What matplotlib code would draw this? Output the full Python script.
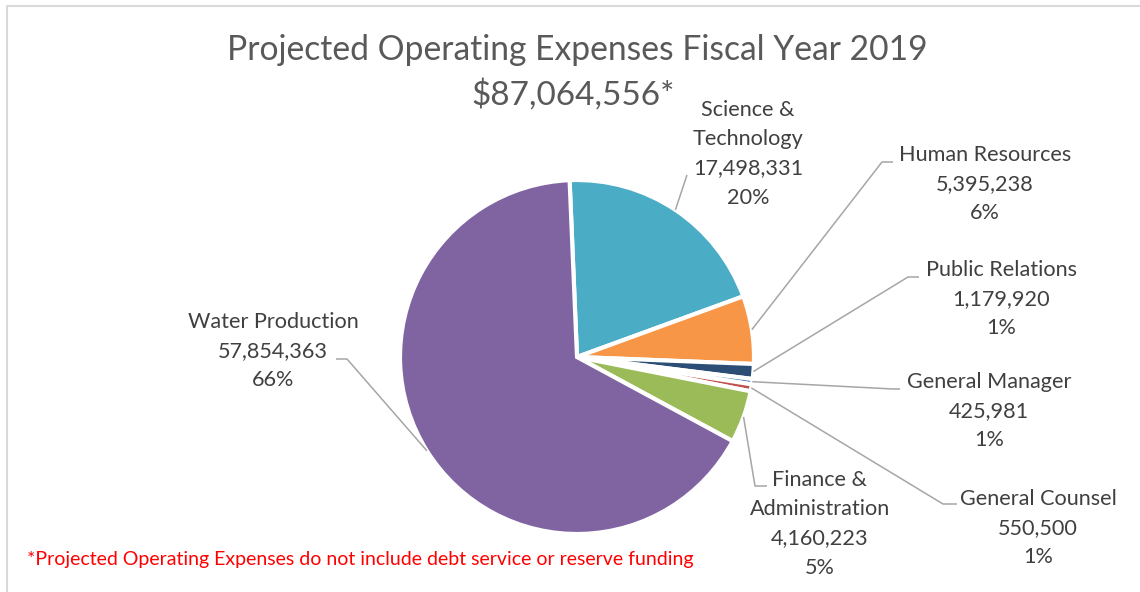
import numpy as np
import matplotlib
matplotlib.use("Agg")
import matplotlib.pyplot as plt

# data
categories = ["Science &\nTechnology", "Human Resources", "Public Relations",
              "General Manager", "General Counsel", "Finance &\nAdministration",
              "Water Production"]
amounts = [17498331, 5395238, 1179920, 425981, 550500, 4160223, 57854363]
pct_labels = ["20%", "6%", "1%", "1%", "1%", "5%", "66%"]
colors = ["#4BACC6", "#F79646", "#2C4D75", "#4F81BD", "#C0504D", "#9BBB59", "#8064A2"]

title = "Projected Operating Expenses Fiscal Year 2019"
total_label = "$87,064,556*"
footnote = "*Projected Operating Expenses do not include debt service or reserve funding"

W, H = 1140, 592
plt.rcParams["font.family"] = ["Lato", "DejaVu Sans"]

fig = plt.figure(figsize=(W / 100, H / 100), dpi=100)
ax = fig.add_axes([0, 0, 1, 1])

cx, cy, r = 577, H - 357, 177
wedges, _ = ax.pie(amounts, colors=colors, startangle=92.4, counterclock=False,
                   center=(cx, cy), radius=r,
                   wedgeprops=dict(edgecolor="white", linewidth=3))
ax.set_xlim(0, W)
ax.set_ylim(0, H)
ax.set_aspect("equal")
ax.axis("off")

# label placement: (center x, first line y), elbow, end of leader (pixels, y down)
label_pos = [(748, 110), (985, 155), (1001, 270), (989, 382), (1038, 499), (820, 480), (273, 322)]
elbows = [(687, 175), (882, 162), (908, 277), (893, 389), (943, 504), (755, 486), (347, 359)]
ends = [(687, 175), (893, 162), (919, 277), (900, 389), (957, 504), (767, 486), (336, 359)]
line_gap = 29.2
txt_color = "#404040"

for i, w in enumerate(wedges):
    mid = np.deg2rad((w.theta1 + w.theta2) / 2)
    sx, sy = cx + r * np.cos(mid), cy + r * np.sin(mid)
    ex, ey = elbows[i]
    fx, fy = ends[i]
    ax.plot([sx, ex, fx], [sy, H - ey, H - fy], color="#A6A6A6", lw=1.1,
            solid_capstyle="butt", zorder=1)
    lines = categories[i].split("\n") + [f"{amounts[i]:,}", pct_labels[i]]
    lx, ly = label_pos[i]
    for j, s in enumerate(lines):
        ax.text(lx, H - (ly + j * line_gap), s, ha="center", va="center",
                fontsize=15.6, color=txt_color)

ax.text(577, H - 50, title, ha="center", va="center", fontsize=24.2, color="#595959")
ax.text(573, H - 95, total_label, ha="center", va="center", fontsize=24, color="#595959")
ax.text(27, H - 560, footnote, ha="left", va="center", fontsize=14, color="#FF0000")

# chart frame (only top and left edges visible)
ax.plot([7, 7, W], [0, H - 6, H - 6], color="#D9D9D9", lw=1.5, clip_on=False)

fig.savefig("out.png", dpi=100)
